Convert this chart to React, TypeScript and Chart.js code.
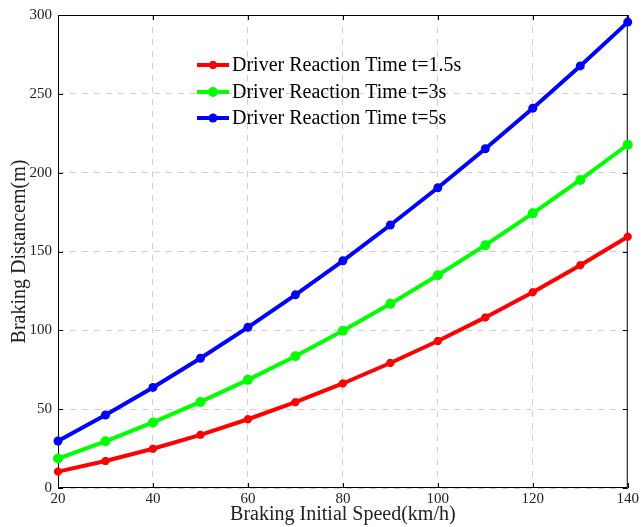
import React, { useEffect, useRef } from "react";
import { Chart, registerables } from "chart.js";

Chart.register(...registerables);

const speeds = [20, 30, 40, 50, 60, 70, 80, 90, 100, 110, 120, 130, 140];
const dist15 = [10.4, 17.1, 24.9, 33.7, 43.6, 54.4, 66.3, 79.3, 93.2, 108.2, 124.2, 141.3, 159.4];
const dist3 = [18.7, 29.6, 41.6, 54.6, 68.6, 83.6, 99.7, 116.8, 134.9, 154.0, 174.2, 195.4, 217.7];
const dist5 = [29.8, 46.3, 63.8, 82.3, 101.9, 122.5, 144.1, 166.8, 190.4, 215.2, 240.9, 267.7, 295.5];
const seriesLabels = [
  "Driver Reaction Time t=1.5s",
  "Driver Reaction Time t=3s",
  "Driver Reaction Time t=5s",
];
const seriesColors = ["#ff0000", "#00ff00", "#0000ff"];
const xTitle = "Braking Initial Speed(km/h)";
const yTitle = "Braking Distancem(m)";

const FONT = "'Liberation Serif', 'Times New Roman', serif";

const framePlugin = {
  id: "frame",
  beforeDatasetsDraw(chart: any) {
    const { ctx, chartArea: a, scales } = chart;
    ctx.save();
    ctx.strokeStyle = "#000";
    ctx.lineWidth = 1;
    ctx.beginPath();
    ctx.rect(a.left + 0.5, a.top + 0.5, a.right - a.left - 1, a.bottom - a.top - 1);
    ctx.stroke();
    const tl = 5;
    const x = scales.x;
    const y = scales.y;
    ctx.beginPath();
    x.ticks.forEach((t: any) => {
      const px = Math.round(x.getPixelForValue(t.value)) + 0.5;
      ctx.moveTo(px, a.bottom);
      ctx.lineTo(px, a.bottom - tl);
      ctx.moveTo(px, a.top);
      ctx.lineTo(px, a.top + tl);
    });
    y.ticks.forEach((t: any) => {
      const py = Math.round(y.getPixelForValue(t.value)) + 0.5;
      ctx.moveTo(a.left, py);
      ctx.lineTo(a.left + tl, py);
      ctx.moveTo(a.right, py);
      ctx.lineTo(a.right - tl, py);
    });
    ctx.stroke();
    ctx.restore();
  },
};

function drawMarker(ctx: CanvasRenderingContext2D, style: string, r: number, color: string, x: number, y: number) {
  ctx.save();
  ctx.fillStyle = color;
  ctx.strokeStyle = color;
  if (style === "star") {
    ctx.lineWidth = 3;
    ctx.beginPath();
    ctx.moveTo(x - r, y);
    ctx.lineTo(x + r, y);
    ctx.moveTo(x, y - r);
    ctx.lineTo(x, y + r);
    const d = r * Math.SQRT1_2;
    ctx.moveTo(x - d, y - d);
    ctx.lineTo(x + d, y + d);
    ctx.moveTo(x - d, y + d);
    ctx.lineTo(x + d, y - d);
    ctx.stroke();
  } else {
    ctx.beginPath();
    ctx.arc(x, y, r, 0, Math.PI * 2);
    ctx.fill();
  }
  ctx.restore();
}

const legendPlugin = {
  id: "innerLegend",
  afterDraw(chart: any) {
    const { ctx } = chart;
    const rows = [65, 92, 118];
    ctx.save();
    chart.data.datasets.forEach((ds: any, i: number) => {
      const y = rows[i];
      ctx.strokeStyle = ds.borderColor;
      ctx.lineWidth = 4;
      ctx.beginPath();
      ctx.moveTo(197, y);
      ctx.lineTo(229, y);
      ctx.stroke();
      drawMarker(ctx, ds.pointStyle, ds.pointRadius, ds.borderColor, 213, y);
      ctx.fillStyle = "#000";
      ctx.font = `20px ${FONT}`;
      ctx.textBaseline = "middle";
      ctx.textAlign = "left";
      ctx.fillText(ds.label, 232, y + 1);
    });
    ctx.restore();
  },
};

export default function App() {
  const ref = useRef<HTMLCanvasElement>(null);
  useEffect(() => {
    if (!ref.current) return;
    const radii = [4, 5, 4.5];
    const styles = ["star", "circle", "circle"];
    const pbw = [3, 0, 0];
    const chart = new Chart(ref.current, {
      type: "line",
      data: {
        datasets: [dist15, dist3, dist5].map((d, i) => ({
          label: seriesLabels[i],
          data: speeds.map((s, j) => ({ x: s, y: d[j] })),
          borderColor: seriesColors[i],
          backgroundColor: seriesColors[i],
          borderWidth: 4,
          pointRadius: radii[i],
          pointStyle: styles[i],
          pointBorderWidth: pbw[i],
          pointBorderColor: seriesColors[i],
          pointBackgroundColor: seriesColors[i],
          tension: 0,
          clip: false,
        })),
      },
      options: {
        animation: false,
        responsive: false,
        layout: { padding: { top: 15, right: 11, left: 0, bottom: 0 } },
        plugins: { legend: { display: false }, tooltip: { enabled: false } },
        scales: {
          x: {
            type: "linear",
            min: 20,
            max: 140,
            ticks: { stepSize: 20, color: "#222", font: { family: FONT, size: 15 }, padding: 2 },
            grid: { color: "#d0d0d0", drawTicks: false },
            border: { display: false, dash: [6, 6] },
            title: {
              display: true,
              text: xTitle,
              color: "#222",
              font: { family: FONT, size: 20 },
              padding: { top: 0, bottom: 0 },
            },
            afterFit(scale: any) {
              scale.height = 39;
            },
          },
          y: {
            min: 0,
            max: 300,
            ticks: { stepSize: 50, color: "#222", font: { family: FONT, size: 15 }, padding: 6 },
            grid: { color: "#d0d0d0", drawTicks: false },
            border: { display: false, dash: [6, 6] },
            title: {
              display: true,
              text: yTitle,
              color: "#222",
              font: { family: FONT, size: 20 },
              padding: { top: 8, bottom: 0 },
            },
            afterFit(scale: any) {
              scale.width = 58;
            },
          },
        },
      } as any,
      plugins: [framePlugin, legendPlugin],
    });
    return () => chart.destroy();
  }, []);
  return (
    <div style={{ position: "fixed", left: 0, top: 0, width: 641, height: 527, background: "#fff" }}>
      <canvas ref={ref} width={641} height={527} style={{ display: "block" }} />
    </div>
  );
}
